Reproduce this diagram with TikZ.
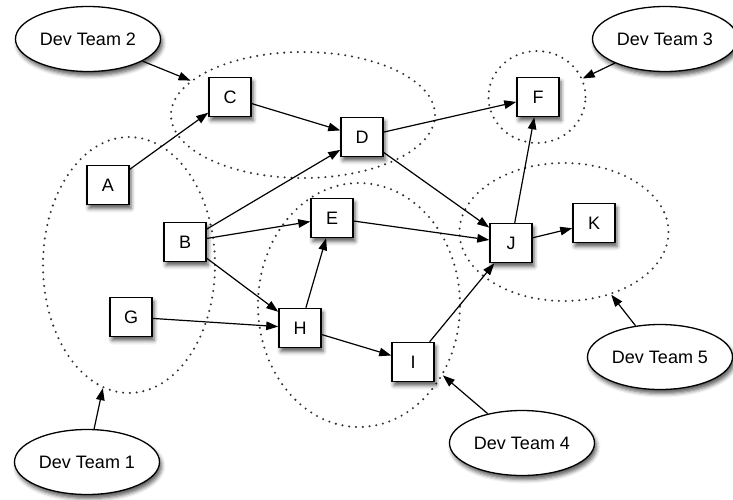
\documentclass[tikz,border=0pt]{standalone}
\usepackage{fontspec}
\setmainfont{Liberation Sans}
\usetikzlibrary{arrows.meta,shapes.geometric,shadows.blur}

\tikzset{
  lbl/.style={font=\fontsize{18}{21}\selectfont},
  softshadow/.style={blur shadow={shadow xshift=2pt, shadow yshift=-4pt,
      shadow blur radius=4pt, shadow opacity=65}},
  box/.style={draw, fill=white, line width=1.5pt, minimum width=42pt,
      minimum height=39pt, inner sep=0pt, lbl, softshadow},
  team/.style={ellipse, draw, fill=white, line width=1.3pt, inner sep=0pt,
      minimum width=145pt, minimum height=65pt, lbl, softshadow},
  group/.style={ellipse, draw=black!80, line width=2.3pt,
      dash pattern=on 0pt off 6.8pt, line cap=round, inner sep=0pt},
  link/.style={-{Triangle[length=12pt,width=8.5pt]}, line width=1.2pt},
}

\begin{document}
\begin{tikzpicture}[x=1pt, y=-1pt]
  \useasboundingbox (0,0) rectangle (733,499);

  % dotted team boundaries
  \node[group, minimum width=172pt, minimum height=256pt] (g1) at (129,265) {};
  \node[group, minimum width=264pt, minimum height=126pt] (g2) at (303,115) {};
  \node[group, minimum width=97pt,  minimum height=92pt]  (g3) at (537,97) {};
  \node[group, minimum width=202pt, minimum height=244pt] (g4) at (359,305) {};
  \node[group, minimum width=209pt, minimum height=138pt] (g5) at (564,232) {};

  % work items
  \node[box] (A) at (108,185) {A};
  \node[box] (B) at (185,242) {B};
  \node[box] (G) at (131,317) {G};
  \node[box] (C) at (230,97)  {C};
  \node[box] (D) at (362,137) {D};
  \node[box] (E) at (332,218) {E};
  \node[box] (F) at (538,97)  {F};
  \node[box] (H) at (300,328) {H};
  \node[box] (I) at (413,362) {I};
  \node[box] (J) at (511,243) {J};
  \node[box] (K) at (594,223) {K};

  % teams
  \node[team] (t1) at (87,462)  {Dev Team 1};
  \node[team] (t2) at (88,39)   {Dev Team 2};
  \node[team] (t3) at (665,39)  {Dev Team 3};
  \node[team] (t4) at (522,443) {Dev Team 4};
  \node[team] (t5) at (660,357) {Dev Team 5};

  % dependencies
  \draw[link] (A) -- (C);
  \draw[link] (C) -- (D);
  \draw[link] (B) -- (D);
  \draw[link] (B) -- (E);
  \draw[link] (B) -- (H);
  \draw[link] (G) -- (H);
  \draw[link] (H) -- (E);
  \draw[link] (H) -- (I);
  \draw[link] (D) -- (F);
  \draw[link] (D) -- (J);
  \draw[link] (E) -- (J);
  \draw[link] (I) -- (J);
  \draw[link] (J) -- (F);
  \draw[link] (J) -- (K);

  % team ownership
  \draw[link] (t1) -- (g1.258);
  \draw[link] (t2) -- (g2.163);
  \draw[link] (t3) -- (g3.22);
  \draw[link] (t4) -- (g4.320);
  \draw[link] (t5) -- (g5.307);
\end{tikzpicture}
\end{document}
